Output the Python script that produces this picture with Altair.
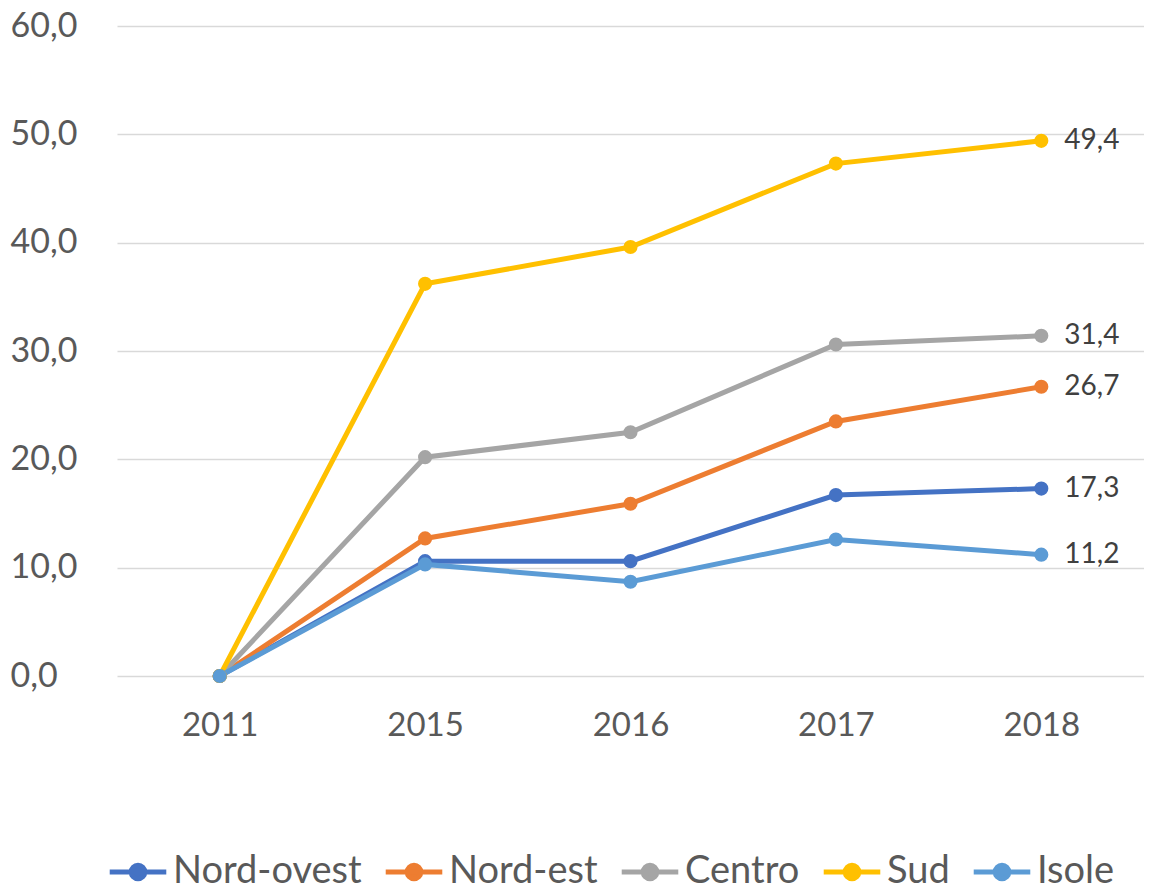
import altair as alt
import pandas as pd

years = ["2011", "2015", "2016", "2017", "2018"]
regions = ["Nord-ovest", "Nord-est", "Centro", "Sud", "Isole"]
nord_ovest = [0.0, 10.6, 10.6, 16.7, 17.3]
nord_est = [0.0, 12.7, 15.9, 23.5, 26.7]
centro = [0.0, 20.2, 22.5, 30.6, 31.4]
sud = [0.0, 36.2, 39.6, 47.3, 49.4]
isole = [0.0, 10.3, 8.7, 12.6, 11.2]
colors = ["#4472C4", "#ED7D31", "#A5A5A5", "#FFC000", "#5B9BD5"]

series = [nord_ovest, nord_est, centro, sud, isole]
rows = []
for r, vals in zip(regions, series):
    for y, v in zip(years, vals):
        rows.append({"region": r, "year": y, "value": v, "ri": regions.index(r)})
df = pd.DataFrame(rows)

FONT = "Lato"
sym = "M-1,0L1,0M-0.24,0A0.24,0.24,0,1,1,0.24,0A0.24,0.24,0,1,1,-0.24,0Z"

legend = alt.Legend(
    title=None, orient="none", direction="horizontal", legendX=-10, legendY=815,
    symbolType=sym, symbolSize=3200, symbolStrokeWidth=5,
    labelFont=FONT, labelFontSize=38, labelColor="#595959",
    labelOffset=4, columnPadding=13, labelLimit=400,
)
scale = alt.Scale(domain=regions, range=colors)

x = alt.X("year:O", scale=alt.Scale(type="point", padding=0.5),
          axis=alt.Axis(title=None, labelAngle=0, ticks=False, domain=False,
                        labelFont=FONT, labelFontSize=33, labelColor="#595959",
                        labelPadding=33, grid=False))
y = alt.Y("value:Q", scale=alt.Scale(domain=[0, 60], nice=False),
          axis=alt.Axis(title=None, values=[0, 10, 20, 30, 40, 50, 60],
                        labelExpr="replace(format(datum.value, '.1f'), '.', ',')",
                        ticks=False, domain=False, labelAlign="left", labelPadding=107,
                        labelFont=FONT, labelFontSize=34, labelColor="#595959",
                        gridColor="#D9D9D9", gridWidth=1.5))

base = alt.Chart(df)
lines = base.mark_line(strokeWidth=5).encode(
    x=x, y=y,
    stroke=alt.Stroke("region:N", scale=scale, legend=legend, sort=regions),
    detail="region:N",
)
points = base.mark_circle(size=200, opacity=1).encode(
    x=x, y=y,
    fill=alt.Fill("region:N", scale=scale, legend=legend, sort=regions),
    order=alt.Order("ri:Q"),
)
labels = base.transform_filter(alt.datum.year == "2018").transform_calculate(
    lab="replace(format(datum.value, '.1f'), '.', ',')"
).mark_text(align="left", baseline="middle", dx=23, font=FONT, fontSize=28,
            color="#404040").encode(x=x, y=y, text="lab:N")

chart = alt.layer(lines, points, labels).properties(
    width=1027, height=650,
    autosize=alt.AutoSizeParams(type="none"),
    padding={"left": 109, "top": 18, "right": 0, "bottom": 208},
).configure_view(stroke=None).configure_axis(labelFont=FONT)

chart.save("out.html", embed_options={"renderer": "svg", "actions": False})
